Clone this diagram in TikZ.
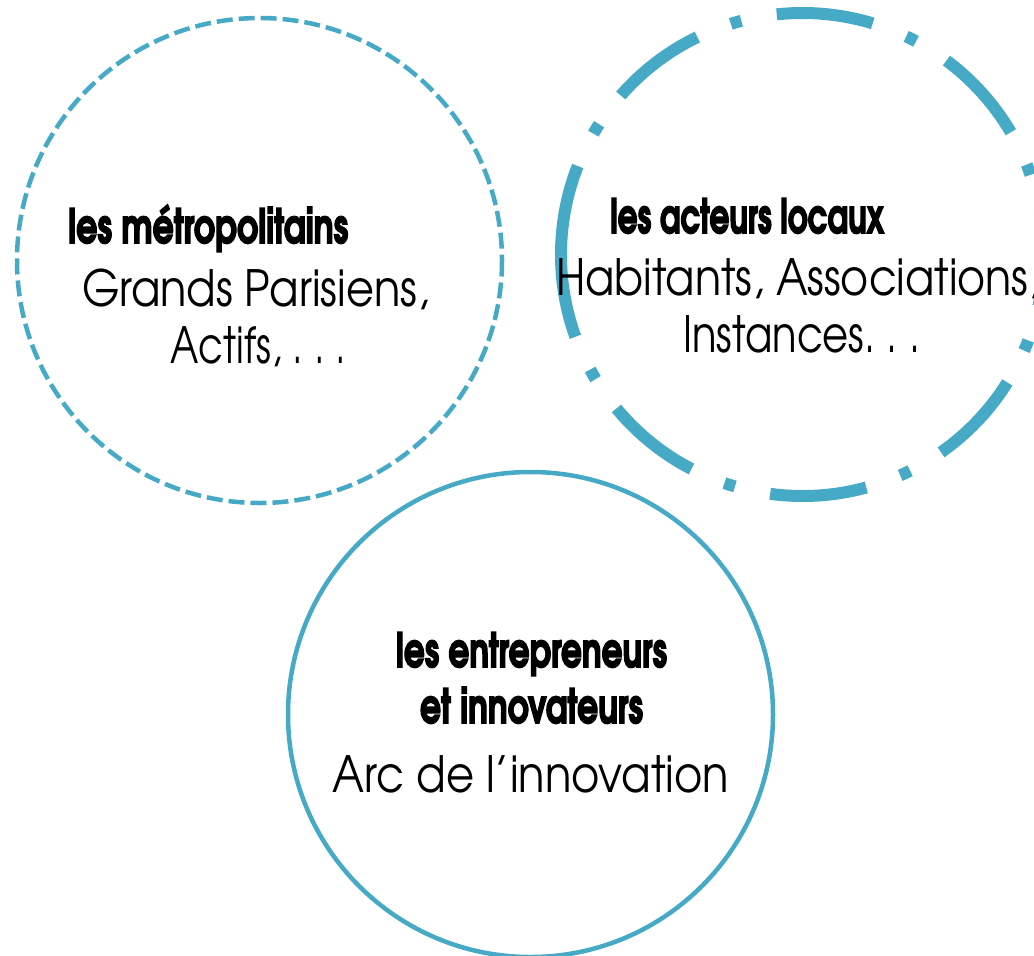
\documentclass[tikz,border=0pt]{standalone}
\usepackage{fontspec}
\usepackage{graphicx}
\setmainfont{TeX Gyre Adventor}[BoldFeatures={FakeBold=3.5}]
\definecolor{ringblue}{RGB}{70,170,199}
\newcommand\fitto[2]{\resizebox{#1}{\height}{#2}}
\newcommand\dotsp{.\hspace{0.28em}.\hspace{0.28em}.}
\tikzset{
  ring/.style={draw=ringblue},
  head/.style={inner sep=0pt, font=\bfseries\fontsize{47}{50}\selectfont},
  body/.style={inner sep=0pt, font=\fontsize{50}{54}\selectfont},
}
\begin{document}
\begin{tikzpicture}[x=1pt,y=-1pt]
\useasboundingbox (0,0) rectangle (1034,956);
\clip (0,0) rectangle (1034,956);
% circle centres
\coordinate (cl) at (259.5,260.5);
\coordinate (cr) at (802.5,254.5);
\coordinate (cb) at (530.5,714.5);
% left circle: fine dashes
\draw[ring, line width=4.5pt, dash pattern=on 16pt off 6pt] (cl) circle[radius=242.5];
% right circle: dash-dot, thick
\draw[ring, line width=12pt, dash pattern=on 97pt off 36pt on 11pt off 36pt]
  (cr) ++(-176.9:241.5) arc[start angle=-176.9, end angle=-536.9, radius=241.5];
% bottom circle: solid
\draw[ring, line width=4.5pt] (cb) circle[radius=242.5];
% left texts
\node[head, anchor=base west] (l1) at (68,243) {\fitto{280pt}{les métropolitains}};
\node[body, anchor=base] (l2) at (255.5,306) {\fitto{347pt}{Grands Parisiens,}};
\node[body, anchor=base] (l3) at (258.5,363) {\fitto{175pt}{Actifs, \dotsp}};
% right texts
\node[head, anchor=base west] (r1) at (610,233) {\fitto{274pt}{les acteurs locaux}};
\node[body, anchor=base west] (r2) at (556,295) {\fitto{484pt}{Habitants, Associations,}};
\node[body, anchor=base west] (r3) at (683,352) {\fitto{237pt}{Instances\dotsp}};
% bottom texts
\node[head, anchor=base] (b1) at (531.5,667) {\fitto{271pt}{les entrepreneurs}};
\node[head, anchor=base] (b2) at (531.5,723) {\fitto{223pt}{et innovateurs}};
\node[body, anchor=base] (b3) at (531,792) {\fitto{396pt}{Arc de l’innovation}};
\end{tikzpicture}
\end{document}
